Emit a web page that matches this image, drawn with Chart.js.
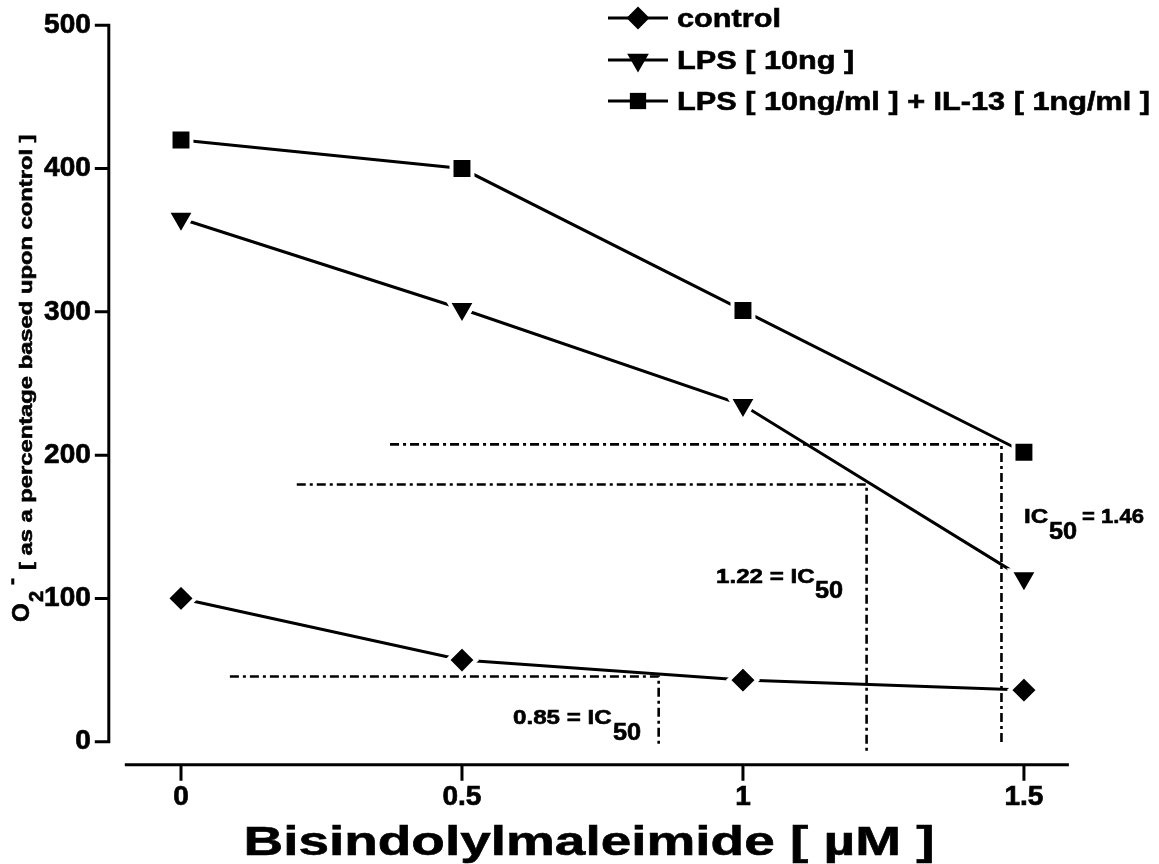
<!DOCTYPE html>
<html>
<head>
<meta charset="utf-8">
<script src="https://cdn.jsdelivr.net/npm/chart.js@4.4.1/dist/chart.umd.min.js"></script>
<style>
  html, body { margin: 0; padding: 0; background: #fff; }
</style>
</head>
<body>
<canvas id="chart" width="1159" height="864"></canvas>
<script>
const doses = [0, 0.5, 1, 1.5];
const control = [100, 57, 43, 36];
const lps = [365, 302, 235, 114];
const lpsIl13 = [420, 400, 301, 202];

const xTicks = [0, 0.5, 1, 1.5];
const yTicks = [0, 100, 200, 300, 400, 500];

// IC50 read-offs: concentration, half-response level
const ic50Values = [0.85, 1.22, 1.46];
const ic50Levels = [45.5, 179.5, 207.5];
// where each dash-dot guide starts (x) and stops (y)
const guideStart = [0.087, 0.206, 0.372];
const guideStop = [-2, -7, -2];

const FONT = '"Liberation Sans", Arial, Helvetica, sans-serif';

function pts(ys) {
  return doses.map((d, i) => ({x: d, y: ys[i]}));
}

function series(label, ys, style, radius, rotation) {
  return {
    label,
    data: pts(ys),
    borderColor: '#000',
    borderWidth: 3,
    pointStyle: style,
    pointRotation: rotation || 0,
    pointRadius: radius,
    pointBackgroundColor: '#000',
    pointBorderColor: '#fff',
    pointBorderWidth: 4,
    tension: 0,
    order: 0
  };
}

function guide(i) {
  return {
    label: 'IC50 ' + ic50Values[i],
    data: [
      {x: guideStart[i], y: ic50Levels[i]},
      {x: ic50Values[i], y: ic50Levels[i]},
      {x: ic50Values[i], y: guideStop[i]}
    ],
    borderColor: '#000',
    borderWidth: 2.6,
    borderDash: [9, 4, 3, 4],
    pointRadius: 0,
    clip: false,
    order: 1
  };
}

// bold text, a bit wider than the font's own proportions
function wideText(ctx, text, x, y, sx, align) {
  ctx.save();
  ctx.translate(x, y);
  ctx.scale(sx, 1);
  ctx.textAlign = align || 'left';
  ctx.lineWidth = 0.6;
  ctx.fillText(text, 0, 0);
  ctx.strokeText(text, 0, 0);
  ctx.restore();
}

function marker(ctx, kind, x, y, r) {
  ctx.beginPath();
  if (kind === 'diamond') {
    ctx.moveTo(x, y - r); ctx.lineTo(x + r, y); ctx.lineTo(x, y + r); ctx.lineTo(x - r, y);
  } else if (kind === 'down') {
    const h = r * 0.866;
    ctx.moveTo(x - h, y - r / 2); ctx.lineTo(x + h, y - r / 2); ctx.lineTo(x, y + r);
  } else {
    const s = r * 0.7071;
    ctx.rect(x - s, y - s, 2 * s, 2 * s);
  }
  ctx.closePath();
  ctx.fill();
}

const detachedAxes = {
  id: 'detachedAxes',
  afterDraw(chart) {
    const {ctx, chartArea, scales: {x, y}} = chart;
    const ax = chartArea.left - 16;
    const ay = chartArea.bottom + 23;
    ctx.save();
    ctx.strokeStyle = '#000';
    ctx.lineWidth = 3;
    ctx.lineJoin = 'miter';
    ctx.beginPath();
    ctx.moveTo(ax - 14, y.getPixelForValue(500));
    ctx.lineTo(ax, y.getPixelForValue(500));
    ctx.lineTo(ax, y.getPixelForValue(0));
    ctx.lineTo(ax - 14, y.getPixelForValue(0));
    yTicks.slice(1, -1).forEach(v => {
      const py = y.getPixelForValue(v);
      ctx.moveTo(ax - 14, py);
      ctx.lineTo(ax, py);
    });
    ctx.moveTo(chartArea.left, ay);
    ctx.lineTo(chartArea.right, ay);
    xTicks.forEach(v => {
      const px = x.getPixelForValue(v);
      ctx.moveTo(px, ay);
      ctx.lineTo(px, ay + 16);
    });
    ctx.stroke();
    ctx.restore();
  }
};

const labels = {
  id: 'labels',
  afterDraw(chart) {
    const ctx = chart.ctx;
    ctx.save();
    ctx.fillStyle = '#000';
    ctx.strokeStyle = '#000';
    ctx.textBaseline = 'alphabetic';

    // legend
    const rows = [
      ['control', 'diamond', 18],
      ['LPS [ 10ng ]', 'down', 60],
      ['LPS [ 10ng/ml ] + IL-13 [ 1ng/ml ]', 'square', 101]
    ];
    rows.forEach(([text, kind, cy]) => {
      ctx.lineWidth = 3;
      ctx.beginPath();
      ctx.moveTo(608, cy);
      ctx.lineTo(668, cy);
      ctx.stroke();
      marker(ctx, kind, 638, cy, kind === 'down' ? 12.5 : 11.5);
      ctx.font = 'bold 26px ' + FONT;
      wideText(ctx, text, 677, cy + 9.3, 1.18);
    });

    // x title
    ctx.font = 'bold 41px ' + FONT;
    wideText(ctx, 'Bisindolylmaleimide [ µM ]', 589, 855, 1.34, 'center');

    // y title, rotated
    ctx.save();
    ctx.translate(32, 622);
    ctx.rotate(-Math.PI / 2);
    ctx.font = 'bold 24px ' + FONT;
    wideText(ctx, 'O', 0, -3, 1);
    ctx.font = 'bold 20px ' + FONT;
    wideText(ctx, '2', 20, 11, 1);
    ctx.font = 'bold 21px ' + FONT;
    wideText(ctx, '-', 37, -14, 1);
    ctx.font = 'bold 19px ' + FONT;
    wideText(ctx, '[ as a percentage based upon control ]', 52, 0, 1.25);
    ctx.restore();

    // IC50 notes
    const main = 'bold 21px ' + FONT;
    const sub = 'bold 23px ' + FONT;
    ctx.font = main; wideText(ctx, '0.85 = IC', 513, 724, 1.15);
    ctx.font = sub; wideText(ctx, '50', 613, 740, 1.1);
    ctx.font = main; wideText(ctx, '1.22 = IC', 716, 583, 1.15);
    ctx.font = sub; wideText(ctx, '50', 815, 598, 1.1);
    ctx.font = main; wideText(ctx, 'IC', 1024, 523, 1.15);
    ctx.font = sub; wideText(ctx, '50', 1049, 539, 1.1);
    ctx.font = main; wideText(ctx, '= 1.46', 1082, 523, 1.05);
    ctx.restore();
  }
};

const tickFont = {family: FONT, size: 28, weight: 'bold'};

new Chart(document.getElementById('chart'), {
  type: 'line',
  data: {
    datasets: [
      series('control', control, 'rectRot', 14.3),
      series('LPS [ 10ng ]', lps, 'triangle', 16, 180),
      series('LPS [ 10ng/ml ] + IL-13 [ 1ng/ml ]', lpsIl13, 'rect', 14.8),
      guide(0), guide(1), guide(2)
    ]
  },
  options: {
    responsive: false,
    devicePixelRatio: 1,
    animation: false,
    events: [],
    layout: {padding: {top: 25.3, right: 90.1, left: 0, bottom: 0}},
    plugins: {legend: {display: false}, tooltip: {enabled: false}, title: {display: false}},
    scales: {
      x: {
        type: 'linear',
        min: -0.1,
        max: 1.58,
        afterBuildTicks: s => { s.ticks = xTicks.map(v => ({value: v})); },
        afterFit: s => { s.height = 122.3; },
        grid: {display: false, drawTicks: false},
        border: {display: false},
        ticks: {
          color: '#000',
          padding: 39,
          font: tickFont,
          textStrokeColor: '#000',
          textStrokeWidth: 0.7,
          callback: v => String(v)
        }
      },
      y: {
        type: 'linear',
        min: 0,
        max: 500,
        afterBuildTicks: s => { s.ticks = yTicks.map(v => ({value: v})); },
        // labels sit far from the plot; keep their padding out of the vertical layout
        afterFit: s => { s.width = 124.8; s.paddingTop = 0; s.paddingBottom = 0; },
        grid: {display: false, drawTicks: false},
        border: {display: false},
        ticks: {
          color: '#000',
          padding: 34,
          font: tickFont,
          textStrokeColor: '#000',
          textStrokeWidth: 0.7,
          callback: v => String(v)
        }
      }
    }
  },
  plugins: [detachedAxes, labels]
});
</script>
</body>
</html>
